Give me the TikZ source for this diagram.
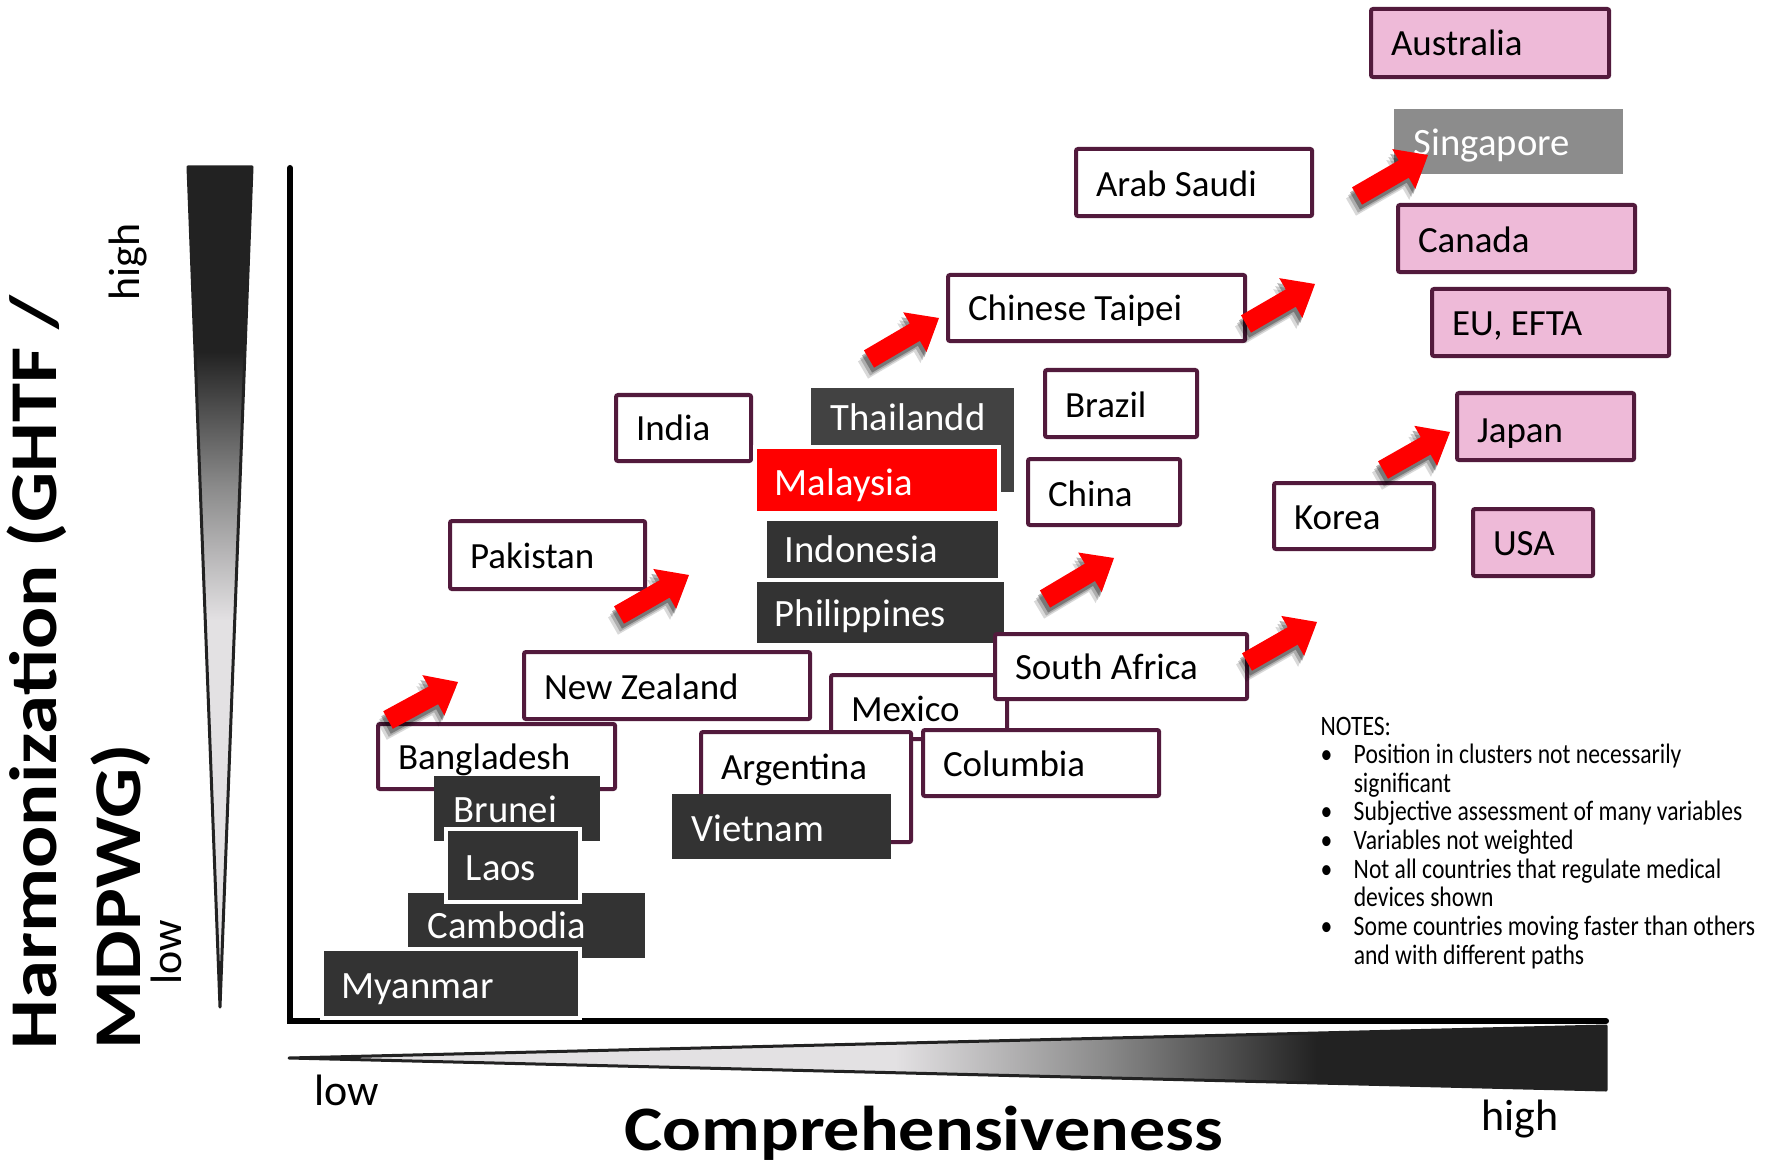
\documentclass[tikz,border=0pt]{standalone}
\usepackage{fontspec}
\setmainfont{Carlito}
\usepackage{graphicx}
\usetikzlibrary{calc}

\definecolor{plum}{HTML}{521A3C}
\definecolor{pinkf}{HTML}{EEBAD8}
\definecolor{darkbox}{HTML}{333333}
\definecolor{thaibox}{HTML}{424242}
\definecolor{singray}{HTML}{8C8C8C}
\definecolor{darkg}{HTML}{222222}
\definecolor{lightg}{HTML}{E3E1E3}
\definecolor{midg}{HTML}{8A8A8A}

\pgfdeclareverticalshading{vtri}{100bp}{color(0bp)=(lightg); color(48bp)=(lightg); color(56bp)=(midg); color(64bp)=(darkg); color(100bp)=(darkg)}
\pgfdeclarehorizontalshading{htri}{100bp}{color(0bp)=(lightg); color(48bp)=(lightg); color(56bp)=(midg); color(64bp)=(darkg); color(100bp)=(darkg)}

\tikzset{
  cbox/.style={draw=plum, line width=0.4mm, rounded corners=0.2mm, fill=white, text=black, font=\fontsize{10.5}{12}\selectfont},
  pbox/.style={cbox, fill=pinkf},
  dbox/.style={fill=darkbox, text=white, font=\fontsize{11}{13}\selectfont},
  wb/.style={draw=white, line width=0.35mm},
  axislabel/.style={inner sep=0pt, font=\fontsize{12.5}{14}\selectfont},
  bigtitle/.style={inner sep=0pt, font=\bfseries\fontsize{19}{20}\selectfont},
}

% name, style, x1, y1, x2, y2, baseline, text   (pixel units)
\newcommand{\ctry}[8]{%
  \pgfmathsetmacro{\cw}{(#5-#3)*0.1}%
  \pgfmathsetmacro{\ch}{(#6-#4)*0.1}%
  \pgfmathsetmacro{\coff}{#7-(#4+#6)/2}%
  \pgfmathsetmacro{\cth}{max(2*\coff,0)*0.1}%
  \pgfmathsetmacro{\ctd}{max(-2*\coff,0)*0.1}%
  \pgfmathsetmacro{\ctw}{\cw-4}%
  \node[#2, anchor=north west, minimum width=\cw mm, minimum height=\ch mm,
        inner xsep=2mm, inner ysep=0pt, text width=\ctw mm, align=flush left,
        text height=\cth mm, text depth=\ctd mm] (#1) at (#3,#4) {#8};%
}

\newcommand{\arrowpoly}[2]{($(#1)!1mm!90:(#2)$) -- ($(#2)!2.8mm!(#1)!1mm!-90:(#1)$) -- ($(#2)!2.8mm!(#1)!2.3mm!-90:(#1)$) -- (#2) -- ($(#2)!2.8mm!(#1)!2.3mm!90:(#1)$) -- ($(#2)!2.8mm!(#1)!1mm!90:(#1)$) -- ($(#1)!1mm!-90:(#2)$) -- cycle}

\newcommand{\redarrow}[2]{%
  \fill[black, opacity=0.15, transform canvas={shift={(-6,11)}}] \arrowpoly{#1}{#2};
  \fill[black, opacity=0.2, transform canvas={shift={(-4,8)}}] \arrowpoly{#1}{#2};
  \fill[black, opacity=0.3, transform canvas={shift={(-2,5)}}] \arrowpoly{#1}{#2};
  \fill[red] \arrowpoly{#1}{#2};
}

\begin{document}
\begin{tikzpicture}[x=0.01cm, y=-0.01cm]
\useasboundingbox (0,0) rectangle (1779,1161);
\fill[white] (0,0) rectangle (1779,1161);

% gradient wedges
\path[draw=darkg, line width=0.3mm, line join=round, shading=vtri] (188,167) -- (252,167) -- (220,1007) -- cycle;
\path[draw=darkg, line width=0.3mm, line join=round, shading=htri] (289,1058) -- (1606,1026) -- (1606,1090) -- cycle;

% axes
\coordinate (ytop) at (290,168);
\coordinate (origin) at (290,1021);
\coordinate (xend) at (1606,1021);
\draw[line width=0.6mm, line cap=round, line join=miter] (ytop) -- (origin) -- (xend);

% pink / top group
\ctry{aus}{pbox}{1369}{7}{1607}{75}{53}{Australia}
\ctry{sgp}{dbox, fill=singray}{1393}{108}{1622}{173}{155}{Singapore}
\ctry{sau}{cbox}{1074}{147}{1310}{214}{194}{Arab Saudi}
\ctry{can}{pbox}{1396}{203}{1633}{270}{250}{Canada}
\ctry{eu}{pbox}{1430}{287}{1667}{354}{333}{EU, EFTA}
\ctry{twn}{cbox}{946}{273}{1243}{339}{318}{Chinese Taipei}
\ctry{bra}{cbox}{1043}{368}{1195}{435}{415}{Brazil}
\ctry{chn}{cbox}{1026}{457}{1178}{523}{504}{China}
\ctry{kor}{cbox}{1272}{481}{1432}{547}{527}{Korea}
\ctry{jpn}{pbox}{1455}{391}{1632}{458}{440}{Japan}
\ctry{usa}{pbox}{1471}{507}{1591}{574}{553}{USA}
\ctry{ind}{cbox}{614}{393}{749}{459}{438}{India}
\ctry{pak}{cbox}{448}{519}{643}{587}{566}{Pakistan}

% ASEAN middle cluster
\ctry{tha}{dbox, fill=thaibox}{810}{387}{1013}{491}{430}{Thailandd}
\ctry{mys}{dbox, fill=red, wb}{753}{445}{997}{511}{494}{Malaysia}
\ctry{idn}{dbox, wb}{763}{517}{998}{579}{561}{Indonesia}
\ctry{phl}{dbox, wb}{753}{578}{1004}{643}{625}{Philippines}

% Latin America / Africa cluster
\ctry{mex}{cbox}{829}{673}{1005}{737}{719}{Mexico}
\ctry{zaf}{cbox}{993}{632}{1245}{697}{677}{South Africa}
\ctry{col}{cbox}{921}{728}{1157}{794}{774}{Columbia}
\ctry{arg}{cbox}{699}{730}{909}{840}{777}{Argentina}
\ctry{vnm}{dbox}{671}{793}{890}{858}{841}{Vietnam}
\ctry{nzl}{cbox}{522}{650}{808}{717}{697}{New Zealand}

% low cluster
\ctry{bgd}{cbox}{376}{722}{613}{787}{767}{Bangladesh}
\ctry{brn}{dbox}{433}{775}{599}{840}{822}{Brunei}
\ctry{khm}{dbox}{407}{892}{644}{957}{938}{Cambodia}
\ctry{lao}{dbox, wb}{444}{827}{578}{900}{879}{Laos}
\ctry{mmr}{dbox, wb}{320}{947}{578}{1016}{997}{Myanmar}

% red progress arrows
\coordinate (a1t) at (388,720);  \coordinate (a1h) at (458,682);
\coordinate (a2t) at (619,615);  \coordinate (a2h) at (689,575);
\coordinate (a3t) at (869,359);  \coordinate (a3h) at (939,318);
\coordinate (a4t) at (1246,324); \coordinate (a4h) at (1315,284);
\coordinate (a5t) at (1045,599); \coordinate (a5h) at (1114,558);
\coordinate (a6t) at (1247,662); \coordinate (a6h) at (1317,622);
\coordinate (a7t) at (1383,470); \coordinate (a7h) at (1450,432);
\coordinate (a8t) at (1357,196); \coordinate (a8h) at (1428,155);
\redarrow{a1t}{a1h}
\redarrow{a2t}{a2h}
\redarrow{a3t}{a3h}
\redarrow{a4t}{a4h}
\redarrow{a5t}{a5h}
\redarrow{a6t}{a6h}
\redarrow{a7t}{a7h}
\redarrow{a8t}{a8h}

% notes
\node[anchor=base west, inner sep=0pt, font=\fontsize{8}{8.14}\selectfont] (notes) at (1320,735)
  {\scalebox{0.84}[1]{\begin{tabular}[t]{@{}l@{}}
   NOTES:\\
   \makebox[3.93mm][l]{\textbullet}Position in clusters not necessarily\\
   \hspace*{3.93mm}significant\\
   \makebox[3.93mm][l]{\textbullet}Subjective assessment of many variables\\
   \makebox[3.93mm][l]{\textbullet}Variables not weighted\\
   \makebox[3.93mm][l]{\textbullet}Not all countries that regulate medical\\
   \hspace*{3.93mm}devices shown\\
   \makebox[3.93mm][l]{\textbullet}Some countries moving faster than others\\
   \hspace*{3.93mm}and with different paths
  \end{tabular}}};

% axis labels
\node[axislabel, anchor=base west] (xlow) at (314,1105) {low};
\node[axislabel, anchor=base west] (xhigh) at (1481,1130) {high};
\node[axislabel, rotate=90, anchor=base west] (yhigh) at (139,301) {high};
\node[axislabel, rotate=90, anchor=base west] (ylow) at (181,985) {low};
\node[inner sep=0pt, font=\bfseries\fontsize{18}{20}\selectfont, anchor=base west] (xtitle) at (624,1150) {\scalebox{1.14}[1]{Comprehensiveness}};
\node[bigtitle, rotate=90, anchor=base west] (ytitle1) at (57,1050) {\scalebox{1.18}[1]{Harmonization (GHTF /}};
\node[bigtitle, rotate=90, anchor=base west] (ytitle2) at (140,1050) {\scalebox{1.18}[1]{MDPWG)}};
\end{tikzpicture}
\end{document}
